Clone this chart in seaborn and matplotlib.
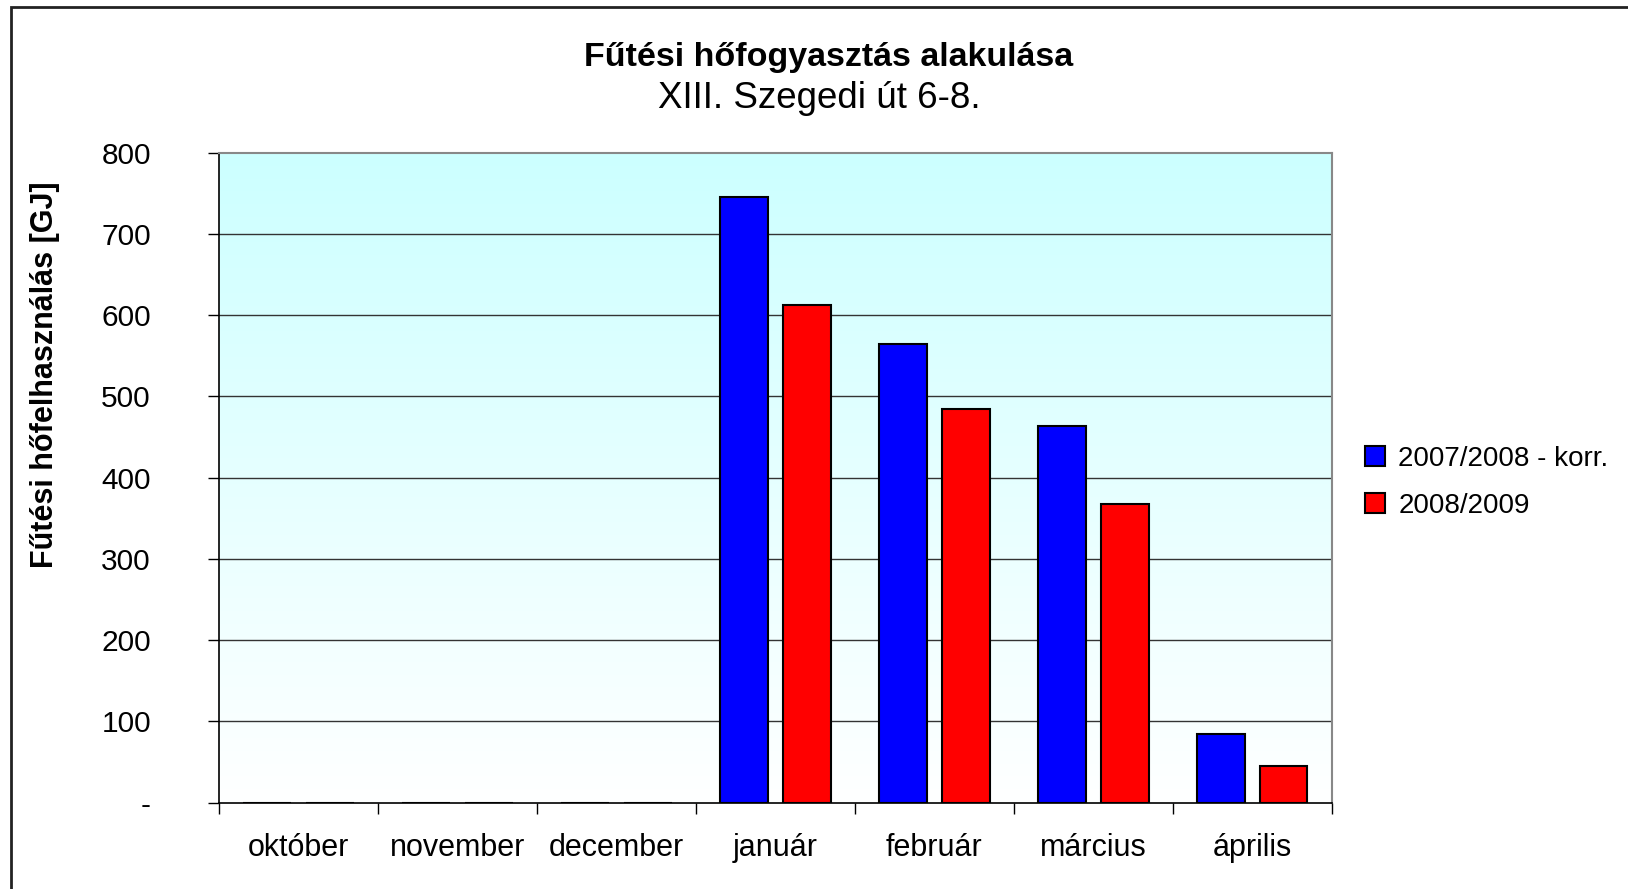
import numpy as np
import pandas as pd
import matplotlib
matplotlib.use("Agg")
import matplotlib.pyplot as plt
import seaborn as sns
from matplotlib.ticker import FuncFormatter
from matplotlib.patches import Rectangle

# Data
months = ["október", "november", "december", "január", "február", "március", "április"]
series_names = ["2007/2008 - korr.", "2008/2009"]
values_0708 = [0, 0, 0, 745, 565, 463, 84]
values_0809 = [0, 0, 0, 612, 484, 367, 45]
y_ticks = [0, 100, 200, 300, 400, 500, 600, 700, 800]

df = pd.DataFrame({
    "month": months * 2,
    "season": [series_names[0]] * len(months) + [series_names[1]] * len(months),
    "value": values_0708 + values_0809,
})

sns.set_style("white")
plt.rcParams["font.family"] = ["Liberation Sans", "DejaVu Sans"]
plt.rcParams["text.color"] = "black"
plt.rcParams["xtick.color"] = "black"
plt.rcParams["ytick.color"] = "black"

fig = plt.figure(figsize=(16.28, 8.89), dpi=100)
ax = fig.add_axes([0.1345, 0.0972, 0.818 - 0.1345, 0.8284 - 0.0972])

# light cyan to white background gradient
grad = np.linspace(0, 1, 256)[:, None]
top = np.array([0.80, 1.0, 1.0])
bottom = np.array([1.0, 1.0, 1.0])
img = top[None, None, :] * (1 - grad[:, :, None]) + bottom[None, None, :] * grad[:, :, None]
ax.imshow(img, extent=[0, 1, 0, 1], transform=ax.transAxes, aspect="auto", zorder=0)

sns.barplot(data=df, x="month", y="value", hue="season", order=months,
            hue_order=series_names, palette=["#0000FF", "#FF0000"],
            width=0.79, gap=0.24, edgecolor="black", linewidth=1.5,
            saturation=1, ax=ax, zorder=3)

ax.set_xlim(-0.5, 6.5)
ax.set_ylim(0, 800)
ax.set_yticks(y_ticks)
ax.yaxis.set_major_formatter(FuncFormatter(lambda v, p: "-" if v == 0 else f"{int(v)}"))
for v in y_ticks[1:-1]:
    ax.axhline(v, color="#333333", linewidth=1, zorder=1)

ax.set_xlabel("")
ax.set_ylabel("")
ax.tick_params(axis="y", direction="out", length=8, width=1, color="black",
               labelsize=21.5, pad=41, left=True)
ax.set_xticks(np.arange(-0.5, 7, 1), minor=True)
ax.tick_params(axis="x", which="major", length=0, labelsize=22, pad=22)
ax.tick_params(axis="x", which="minor", direction="out", length=8, width=1,
               color="black", bottom=True)

for s in ["left", "bottom"]:
    ax.spines[s].set_color("black")
    ax.spines[s].set_linewidth(1.2)
for s in ["top", "right"]:
    ax.spines[s].set_color("#888888")
    ax.spines[s].set_linewidth(1.5)

ax.legend(loc="center left", bbox_to_anchor=(1.02, 0.493), frameon=False,
          fontsize=20, handlelength=0.7, handleheight=0.7, handletextpad=0.5,
          labelspacing=0.75, borderaxespad=0)

fig.text(0.509, 0.935, "Fűtési hőfogyasztás alakulása", ha="center", va="center",
         fontsize=24.5, fontweight="bold")
fig.text(0.503, 0.889, "XIII. Szegedi út 6-8.", ha="center", va="center", fontsize=26.5)
fig.text(0.0275, 0.579, "Fűtési hőfelhasználás [GJ]", ha="center", va="center",
         rotation=90, fontsize=22, fontweight="bold")

# outer chart frame
fig.patches.append(Rectangle((11 / 1628, -0.1), 1.2, 1 - 7 / 889 + 0.1,
                             transform=fig.transFigure, fill=False,
                             edgecolor="#222222", linewidth=2))

fig.savefig("out.png", dpi=100)
